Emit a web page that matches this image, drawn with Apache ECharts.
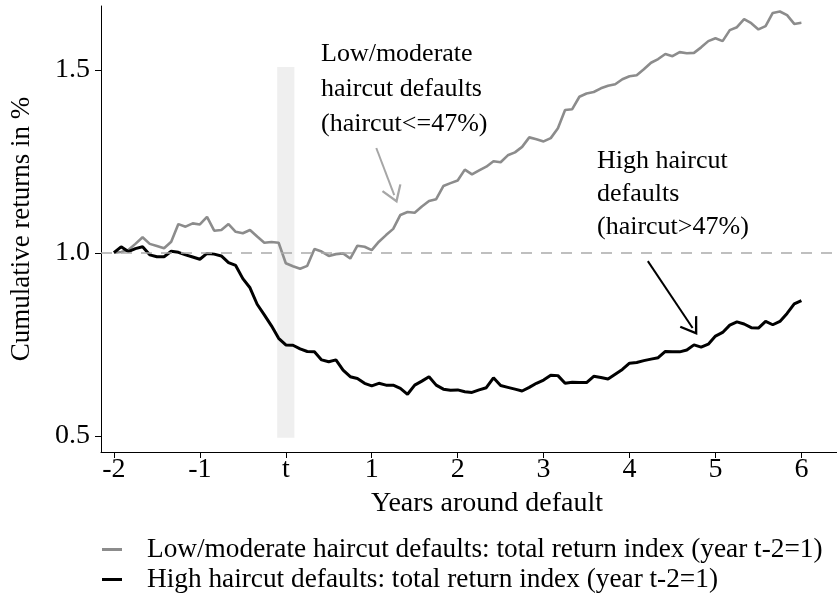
<!DOCTYPE html>
<html>
<head>
<meta charset="utf-8">
<script src="https://cdn.jsdelivr.net/npm/echarts@6/dist/echarts.min.js"></script>
<style>
  html, body { margin: 0; padding: 0; background: #fff; }
  #chart { width: 837px; height: 603px; }
</style>
</head>
<body>
<div id="chart"></div>
<script>
var chartDom = document.getElementById('chart');
var myChart = echarts.init(chartDom);

// monthly observations, from 24 months before default to 72 months after
var monthsFrom = -24;
var lowHaircut = [
  1.001, 1.003, 1.008, 1.025, 1.043, 1.025, 1.019, 1.013, 1.031, 1.079, 1.072, 1.081,
  1.078, 1.099, 1.061, 1.063, 1.079, 1.058, 1.054, 1.063, 1.045, 1.028, 1.030, 1.028,
  0.972, 0.964, 0.957, 0.965, 1.011, 1.004, 0.992, 0.997, 0.999, 0.985, 1.020, 1.017,
  1.008, 1.031, 1.049, 1.066, 1.104, 1.112, 1.110, 1.127, 1.142, 1.147, 1.183, 1.191,
  1.198, 1.228, 1.215, 1.226, 1.236, 1.251, 1.248, 1.267, 1.275, 1.290, 1.316, 1.311,
  1.305, 1.314, 1.341, 1.391, 1.393, 1.427, 1.436, 1.440, 1.450, 1.457, 1.461, 1.475,
  1.483, 1.486, 1.502, 1.520, 1.530, 1.544, 1.538, 1.549, 1.546, 1.547, 1.562, 1.579,
  1.587, 1.579, 1.609, 1.617, 1.639, 1.628, 1.611, 1.620, 1.656, 1.660, 1.650, 1.626,
  1.629
];
var highHaircut = [
  1.001, 1.017, 1.004, 1.012, 1.017, 0.995, 0.990, 0.990, 1.005, 1.002, 0.995, 0.989,
  0.983, 0.999, 0.997, 0.992, 0.974, 0.966, 0.930, 0.905, 0.860, 0.831, 0.801, 0.767,
  0.749, 0.748, 0.738, 0.731, 0.730, 0.708, 0.703, 0.708, 0.680, 0.662, 0.657, 0.644,
  0.637, 0.644, 0.639, 0.639, 0.630, 0.614, 0.639, 0.650, 0.662, 0.639, 0.628, 0.625,
  0.626, 0.621, 0.619, 0.626, 0.632, 0.659, 0.638, 0.633, 0.628, 0.623, 0.633, 0.644,
  0.653, 0.666, 0.665, 0.644, 0.647, 0.646, 0.646, 0.663, 0.660, 0.656, 0.669, 0.682,
  0.699, 0.701, 0.706, 0.710, 0.714, 0.731, 0.730, 0.730, 0.735, 0.749, 0.743, 0.751,
  0.773, 0.783, 0.803, 0.812, 0.806, 0.796, 0.795, 0.813, 0.804, 0.813, 0.835, 0.861,
  0.870
];
var xTicks = [-2, -1, 0, 1, 2, 3, 4, 5, 6];
var yTicks = [0.5, 1.0, 1.5];
var seriesNames = [
  'Low/moderate haircut defaults: total return index (year t-2=1)',
  'High haircut defaults: total return index (year t-2=1)'
];

function toPairs(vals) {
  var out = [];
  for (var i = 0; i < vals.length; i++) {
    out.push([(monthsFrom + i) / 12, vals[i]]);
  }
  return out;
}

var font = 'Liberation Serif';
// open arrow head, tip pointing up
var arrowHead = 'path://M10,0 L20,17 L18.2,18.2 L10,4.6 L1.8,18.2 L0,17 Z';

var option = {
  animation: false,
  textStyle: { fontFamily: font },
  grid: { left: 97, right: 0, top: 6, bottom: 151 },
  legend: {
    orient: 'vertical',
    left: 102,
    top: 536,
    padding: 0,
    itemGap: 3,
    itemWidth: 20,
    itemHeight: 3,
    icon: 'rect',
    data: seriesNames,
    textStyle: { fontFamily: font, fontSize: 27.3, color: '#000', padding: [0, 0, 0, 20] }
  },
  xAxis: {
    type: 'value',
    min: -2.1505,
    max: 6.4143,
    name: 'Years around default',
    nameLocation: 'middle',
    nameGap: 38,
    nameTextStyle: { fontFamily: font, fontSize: 28, color: '#000', padding: [0, 0, 0, 36] },
    axisLine: { show: true, onZero: false, lineStyle: { color: '#000', width: 1 } },
    axisTick: { show: true, length: 6, customValues: xTicks, lineStyle: { color: '#000' } },
    axisLabel: {
      customValues: xTicks,
      fontFamily: font, fontSize: 28, color: '#000', margin: 4,
      formatter: function (v) { return v === 0 ? 't' : String(v); }
    },
    splitLine: { show: false }
  },
  yAxis: {
    type: 'value',
    min: 0.4563,
    max: 1.675,
    name: 'Cumulative returns in %',
    nameLocation: 'middle',
    nameGap: 66,
    nameTextStyle: { fontFamily: font, fontSize: 27, color: '#000' },
    axisLine: { show: true, onZero: false, lineStyle: { color: '#000', width: 1 } },
    axisTick: { show: true, length: 6, customValues: yTicks, lineStyle: { color: '#000' } },
    axisLabel: {
      customValues: yTicks,
      fontFamily: font, fontSize: 28, color: '#000', margin: 11,
      formatter: function (v) { return v.toFixed(1); }
    },
    splitLine: { show: false }
  },
  graphic: [
    {
      type: 'text', left: 321, top: 37, z: 10,
      style: {
        text: 'Low/moderate\nhaircut defaults\n(haircut<=47%)',
        font: '26px "Liberation Serif"', lineHeight: 35, fill: '#000'
      }
    },
    {
      type: 'text', left: 597, top: 145, z: 10,
      style: {
        text: 'High haircut\ndefaults\n(haircut>47%)',
        font: '26px "Liberation Serif"', lineHeight: 33, fill: '#000'
      }
    }
  ],
  series: [
    {
      name: seriesNames[0],
      type: 'line',
      data: toPairs(lowHaircut),
      symbol: 'none',
      z: 3,
      color: '#8c8c8c',
      lineStyle: { width: 2.6, color: '#8c8c8c' },
      markArea: {
        silent: true,
        itemStyle: { color: '#efefef' },
        data: [[{ coord: [-0.1, 0.495] }, { coord: [0.1, 1.508] }]]
      },
      markLine: {
        silent: true,
        symbol: 'none',
        label: { show: false },
        data: [
          {
            yAxis: 1.0,
            lineStyle: { color: '#aaaaaa', width: 1.6, type: [11, 9] }
          },
          [
            { coord: [1.053, 1.287], symbol: 'none' },
            { coord: [1.262, 1.158], symbol: arrowHead, symbolSize: [21, 17] }
          ]
        ],
        lineStyle: { color: '#a6a6a6', width: 2, type: 'solid' },
        itemStyle: { color: '#a6a6a6' }
      }
    },
    {
      name: seriesNames[1],
      type: 'line',
      data: toPairs(highHaircut),
      symbol: 'none',
      z: 4,
      color: '#000',
      lineStyle: { width: 3, color: '#000' },
      markLine: {
        silent: true,
        symbol: 'none',
        label: { show: false },
        lineStyle: { color: '#000', width: 2, type: 'solid' },
        itemStyle: { color: '#000' },
        data: [
          [
            { coord: [4.213, 0.978], symbol: 'none' },
            { coord: [4.734, 0.795], symbol: arrowHead, symbolSize: [21, 17] }
          ]
        ]
      }
    }
  ]
};

option && myChart.setOption(option);
</script>
</body>
</html>
